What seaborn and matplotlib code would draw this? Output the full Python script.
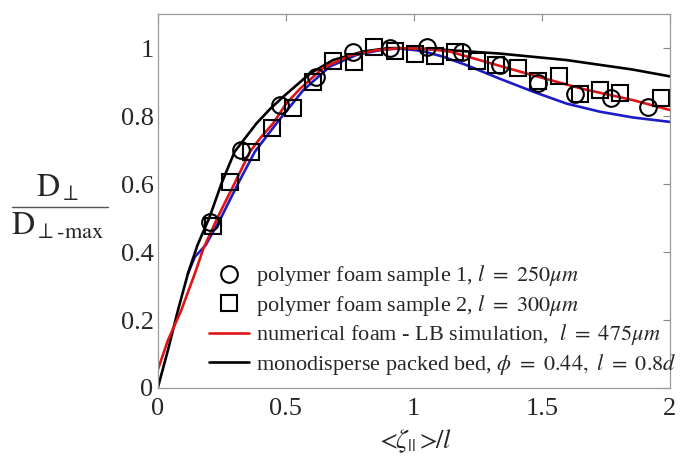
import numpy as np
import pandas as pd
import matplotlib
matplotlib.use("Agg")
import matplotlib.pyplot as plt
import seaborn as sns
from matplotlib.lines import Line2D

# ---- data ----
s1_x = [0.203, 0.327, 0.477, 0.62, 0.763, 0.906, 1.05, 1.19, 1.336, 1.485, 1.629, 1.772, 1.914]
s1_y = [0.488, 0.70, 0.832, 0.916, 0.99, 0.999, 1.004, 0.99, 0.95, 0.897, 0.865, 0.852, 0.826]

s2_x = [0.215, 0.281, 0.366, 0.448, 0.529, 0.607, 0.685, 0.766, 0.844, 0.926, 1.004, 1.082,
        1.16, 1.245, 1.323, 1.408, 1.486, 1.568, 1.648, 1.727, 1.805, 1.967]
s2_y = [0.478, 0.605, 0.693, 0.764, 0.825, 0.90, 0.963, 0.96, 1.004, 0.992, 0.982, 0.976,
        0.99, 0.963, 0.95, 0.943, 0.904, 0.918, 0.865, 0.876, 0.867, 0.852]

black_x = [0, 0.04, 0.079, 0.118, 0.155, 0.203, 0.249, 0.30, 0.385, 0.44, 0.49, 0.594, 0.685,
           0.802, 0.9, 0.945, 1.1, 1.336, 1.596, 1.855, 2.0]
black_y = [0, 0.112, 0.229, 0.337, 0.42, 0.504, 0.602, 0.695, 0.778, 0.822, 0.857, 0.925, 0.965,
           0.99, 1.0, 1.0, 0.996, 0.984, 0.965, 0.937, 0.917]

red_x = [0, 0.04, 0.092, 0.145, 0.178, 0.235, 0.30, 0.36, 0.40, 0.45, 0.50, 0.555, 0.646, 0.75,
         0.854, 0.945, 1.05, 1.14, 1.27, 1.466, 1.66, 1.856, 2.0]
red_y = [0.053, 0.141, 0.229, 0.337, 0.41, 0.504, 0.602, 0.695, 0.735, 0.778, 0.835, 0.88, 0.942,
         0.978, 0.994, 1.0, 0.998, 0.99, 0.962, 0.92, 0.88, 0.847, 0.818]

blue_x = [0.118, 0.145, 0.187, 0.249, 0.314, 0.379, 0.463, 0.568, 0.672, 0.776, 0.88, 0.945, 1.03,
          1.114, 1.206, 1.336, 1.466, 1.596, 1.727, 1.856, 2.0]
blue_y = [0.337, 0.386, 0.42, 0.504, 0.602, 0.695, 0.778, 0.876, 0.946, 0.98, 0.996, 0.999, 0.992,
          0.975, 0.95, 0.91, 0.872, 0.837, 0.813, 0.796, 0.783]

x_ticks = [0, 0.5, 1, 1.5, 2]
x_ticklabels = ["0", "0.5", "1", "1.5", "2"]
y_ticks = [0, 0.2, 0.4, 0.6, 0.8, 1.0]
y_ticklabels = ["0", "0.2", "0.4", "0.6", "0.8", "1"]

lab_s1 = r"polymer foam sample 1, $\mathit{l\ =\ 250\mu m}$"
lab_s2 = r"polymer foam sample 2, $\mathit{l\ =\ 300\mu m}$"
lab_red = r"numerical foam - LB simulation,  $\mathit{l\ =\ 475\mu m}$"
lab_black = r"monodisperse packed bed, $\mathit{\phi\ =\ 0.44,\ l\ =\ 0.8d}$"

# ---- styling ----
sns.set_style("white")
plt.rcParams["font.family"] = ["Liberation Serif", "DejaVu Serif"]
plt.rcParams["mathtext.fontset"] = "stix"

fig = plt.figure(figsize=(6.8, 4.72), dpi=100)
ax = fig.add_axes([0.232, 0.178, 0.753, 0.792])

lw = 1.9
sns.lineplot(x=blue_x, y=blue_y, ax=ax, color="#1c1cc8", lw=lw, sort=False)
sns.lineplot(x=black_x, y=black_y, ax=ax, color="black", lw=lw, sort=False)
sns.lineplot(x=red_x, y=red_y, ax=ax, color="#e01414", lw=lw, sort=False)
sns.lineplot(x=s1_x, y=s1_y, ax=ax, marker="o", linestyle="", ms=12, mfc="none",
             mec="black", mew=1.5, sort=False)
sns.lineplot(x=s2_x, y=s2_y, ax=ax, marker="s", linestyle="", ms=11, mfc="none",
             mec="black", mew=1.5, sort=False)

ax.set_xlim(0, 2)
ax.set_ylim(0, 1.1)
ax.set_xticks(x_ticks)
ax.set_xticklabels(x_ticklabels)
ax.set_yticks(y_ticks)
ax.set_yticklabels(y_ticklabels)
ax.tick_params(direction="in", length=5, width=0.8, color="#888888", labelsize=19,
               top=True, right=True)
ax.tick_params(axis="x", pad=7)
ax.tick_params(axis="y", pad=3)
for sp in ax.spines.values():
    sp.set_color("#999999")
    sp.set_linewidth(0.9)

# x label
ax.set_xlabel(r"$<\!\!\zeta_{||}\,\!>\!\!/l$", fontsize=19)
ax.xaxis.set_label_coords(0.5, -0.105)

# y label as a fraction
fig.text(0.085, 0.583, r"$\mathrm{D}_{\perp}$", fontsize=23, ha="center", va="baseline")
fig.text(0.085, 0.502, r"$\mathrm{D}_{\perp\mathrm{\text{-}max}}$", fontsize=23, ha="center",
         va="baseline")
fig.add_artist(Line2D([0.018, 0.159], [0.561, 0.561], transform=fig.transFigure,
                      color="#555555", lw=1.0))

handles = [
    Line2D([], [], marker="o", linestyle="", ms=12, mfc="none", mec="black", mew=1.5),
    Line2D([], [], marker="s", linestyle="", ms=11, mfc="none", mec="black", mew=1.5),
    Line2D([], [], color="#e01414", lw=lw),
    Line2D([], [], color="black", lw=lw),
]
ax.legend(handles, [lab_s1, lab_s2, lab_red, lab_black], loc="lower left",
          bbox_to_anchor=(0.1, 0.03), frameon=False, fontsize=16, handlelength=1.8,
          handletextpad=0.3, labelspacing=0.2, borderpad=0, borderaxespad=0)

fig.savefig("out.png", dpi=100)
